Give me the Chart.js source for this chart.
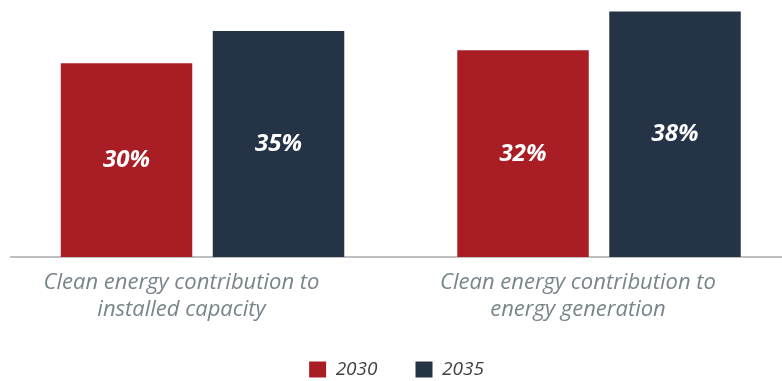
<!DOCTYPE html>
<html>
<head>
<meta charset="utf-8">
<script src="https://cdn.jsdelivr.net/npm/chart.js@4"></script>
<style>
  html, body { margin: 0; padding: 0; background: #ffffff; overflow: hidden; }
  #wrap { width: 782px; height: 381px; position: relative; }
</style>
</head>
<body>
<div id="wrap"><canvas id="chart"></canvas></div>
<script>
// Categories (one per group of bars), split into the lines shown under the axis
const categoryLines = [
  ['Clean energy contribution to', 'installed capacity'],
  ['Clean energy contribution to', 'energy generation']
];
// Target years and their shares (%)
const seriesNames = ['2030', '2035'];
const values2030 = [30, 32];
const values2035 = [35, 38];
const seriesColors = ['#A81E24', '#243346'];

const toPoints = vals => vals.map((v, i) => ({ x: i, y: v }));

// Writes each bar's value in the middle of the bar
const valueLabels = {
  id: 'valueLabels',
  afterDatasetsDraw(chart) {
    const ctx = chart.ctx;
    ctx.save();
    ctx.fillStyle = '#ffffff';
    ctx.font = 'italic bold 24px "Open Sans"';
    ctx.textAlign = 'center';
    ctx.textBaseline = 'middle';
    chart.data.datasets.forEach((ds, di) => {
      const meta = chart.getDatasetMeta(di);
      meta.data.forEach((bar, i) => {
        const v = ds.data[i].y;
        ctx.fillText(v + '%', bar.x, (bar.y + bar.base) / 2);
      });
    });
    ctx.restore();
  }
};

new Chart(document.getElementById('chart'), {
  type: 'bar',
  data: {
    datasets: [
      { label: seriesNames[0], data: toPoints(values2030), backgroundColor: seriesColors[0], borderWidth: 0 },
      { label: seriesNames[1], data: toPoints(values2035), backgroundColor: seriesColors[1], borderWidth: 0 }
    ]
  },
  options: {
    responsive: true,
    maintainAspectRatio: false,
    animation: false,
    layout: { padding: { left: 11, right: 0, top: 0, bottom: 0 } },
    categoryPercentage: 0.7667,
    barPercentage: 0.8651,
    scales: {
      x: {
        type: 'linear',
        offset: false,
        min: -0.483,
        max: 1.4615,
        afterBuildTicks: s => { s.ticks = categoryLines.map((_, i) => ({ value: i })); },
        afterFit: s => { s.height = 65; },
        grid: { display: false, drawTicks: false },
        border: { display: true, color: '#BFBFBF', width: 2 },
        ticks: {
          autoSkip: false,
          maxRotation: 0,
          padding: 12,
          labelOffset: -21,
          color: '#78858A',
          font: { family: '"Open Sans"', size: 22, style: 'italic', lineHeight: 27 / 22 },
          callback: v => categoryLines[v]
        }
      },
      y: {
        display: false,
        min: 0,
        max: 39.8
      }
    },
    plugins: {
      legend: {
        position: 'bottom',
        maxHeight: 59,
        labels: {
          boxWidth: 17,
          boxHeight: 16,
          padding: 38,
          color: '#404040',
          font: { family: '"Open Sans"', size: 19, style: 'italic' }
        }
      },
      tooltip: { enabled: false }
    }
  },
  plugins: [valueLabels]
});
</script>
</body>
</html>
